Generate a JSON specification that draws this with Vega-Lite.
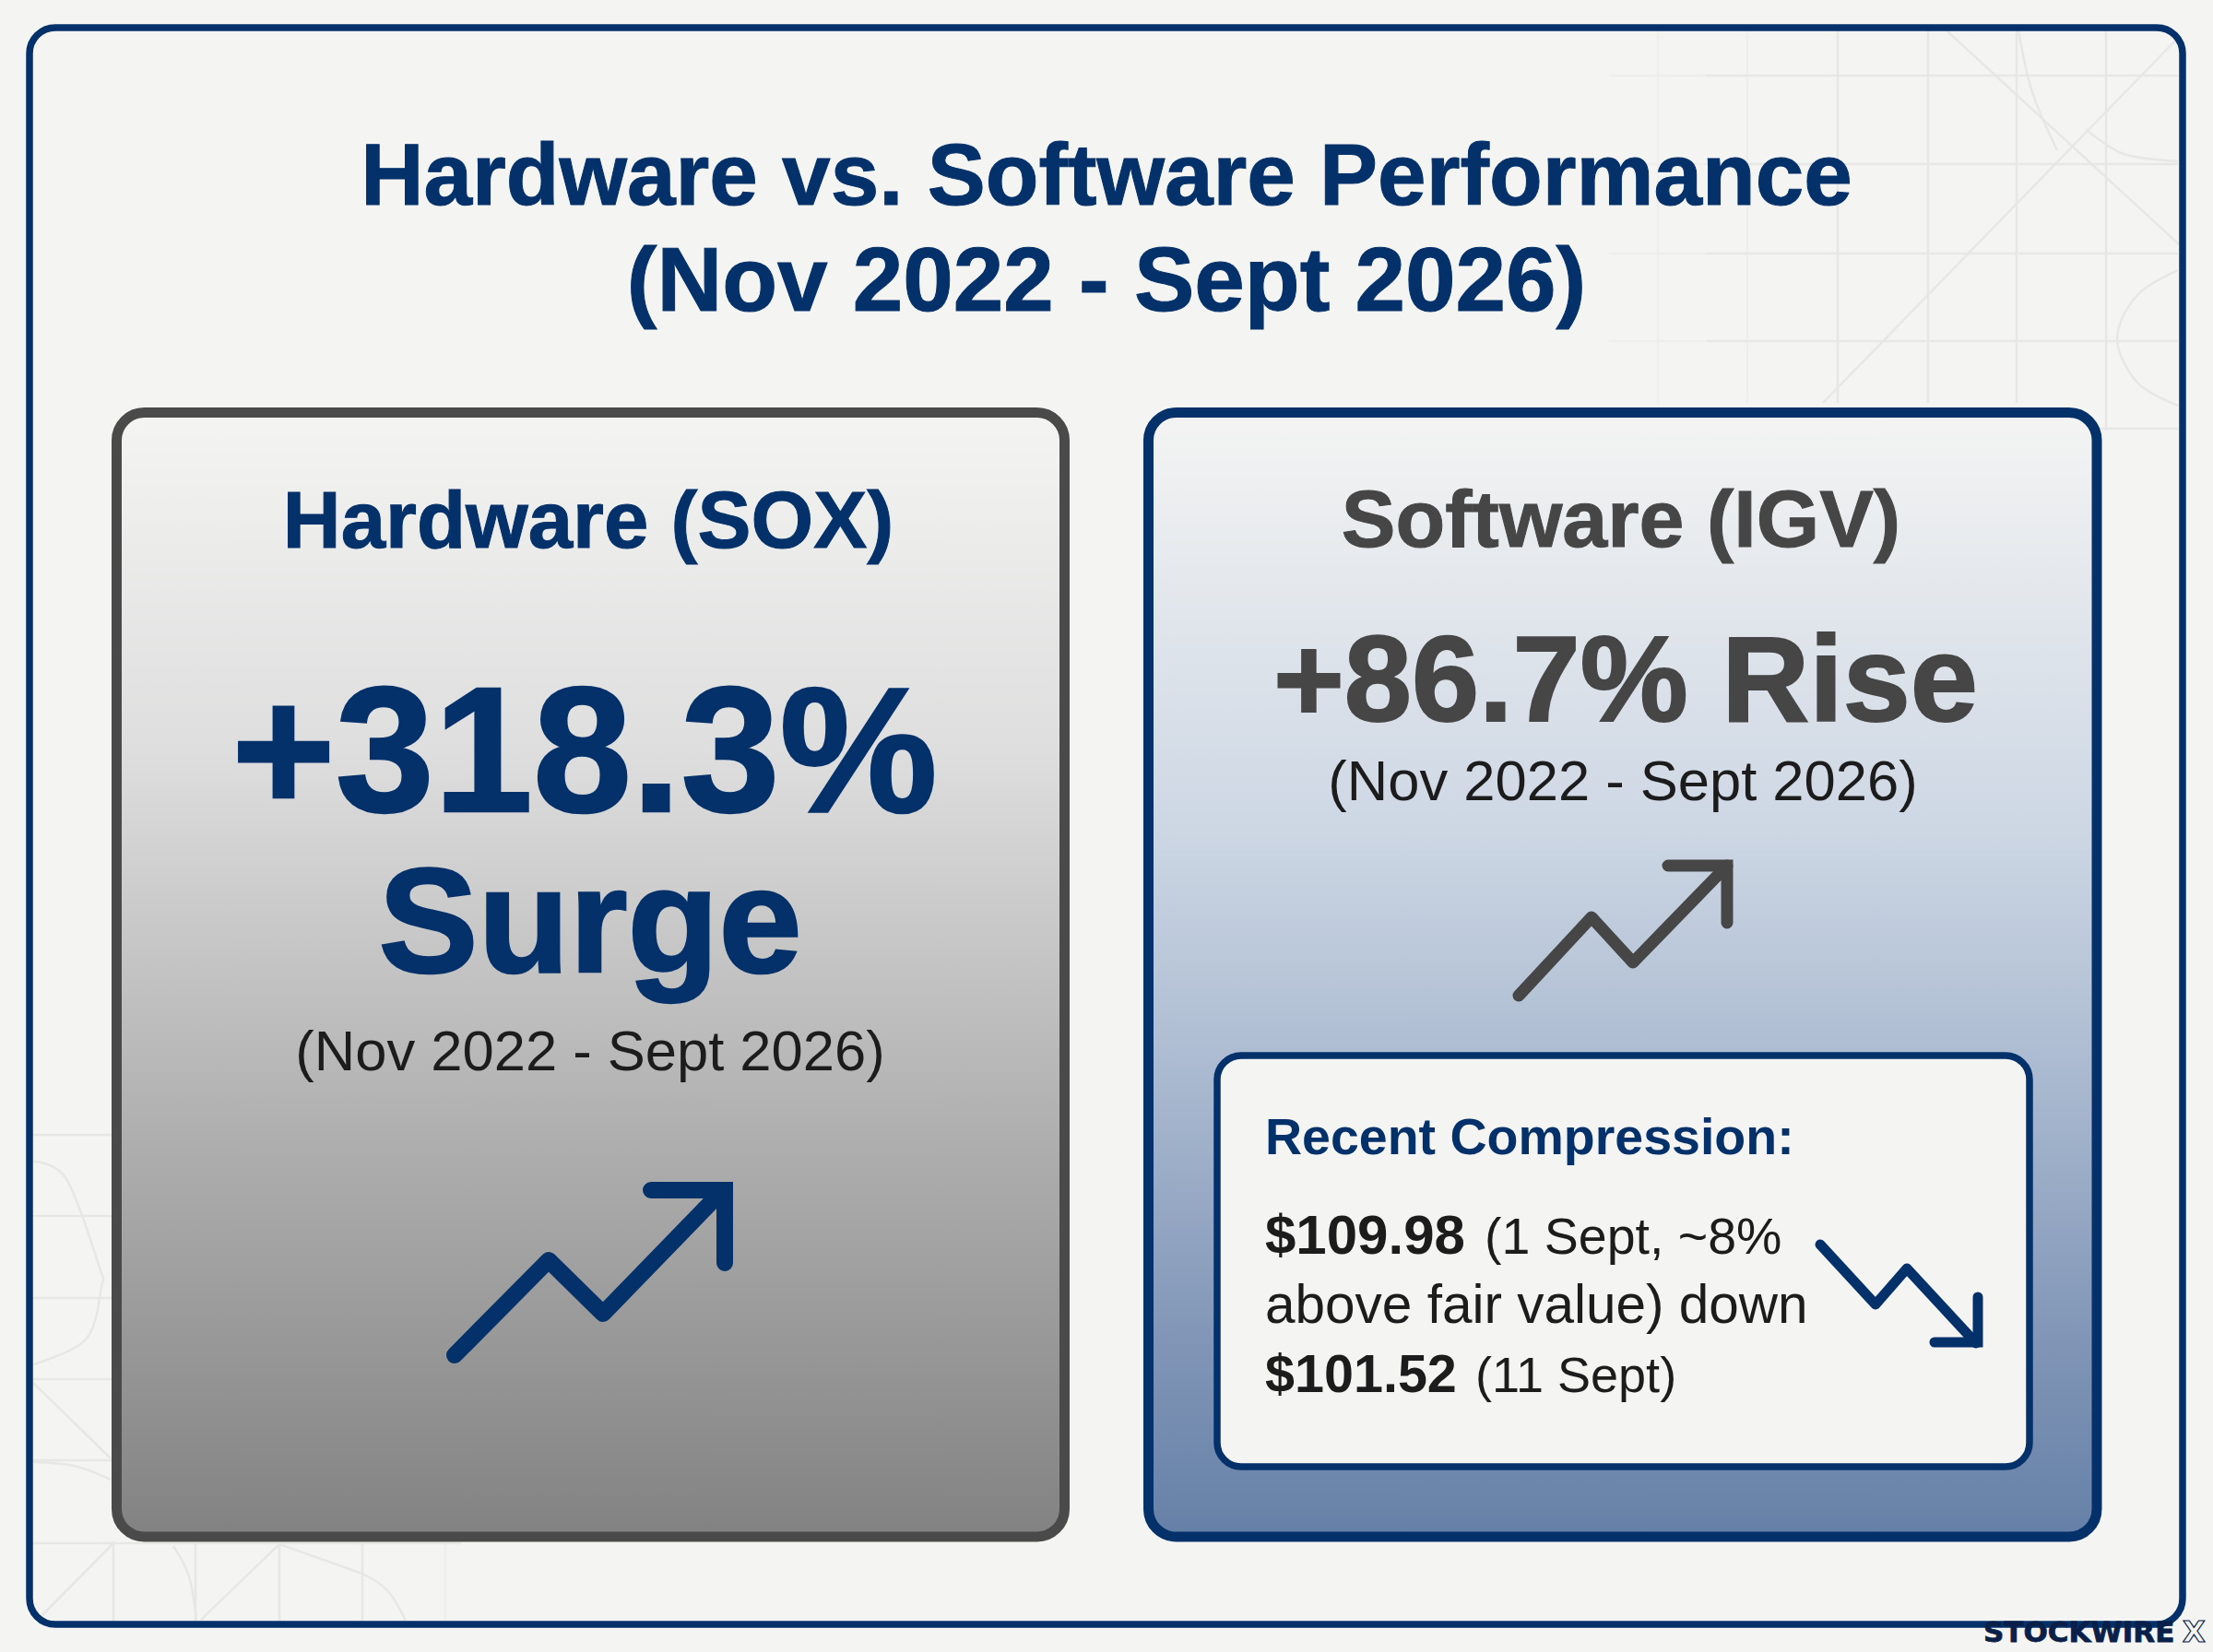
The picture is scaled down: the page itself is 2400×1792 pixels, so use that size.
{
  "$schema": "https://vega.github.io/schema/vega-lite/v6.json",
  "width": 2400,
  "height": 1792,
  "padding": 0,
  "autosize": "none",
  "background": "#f4f4f2",
  "config": {"view": {"stroke": null}},
  "datasets": {
    "rules": [
      {"x": 1798, "y": 33, "x2": 1798, "y2": 437, "kind": "faint"},
      {"x": 1895, "y": 33, "x2": 1895, "y2": 437, "kind": "faint"},
      {"x": 1745, "y": 82, "x2": 1850, "y2": 82, "kind": "faint"},
      {"x": 1745, "y": 178, "x2": 1850, "y2": 178, "kind": "faint"},
      {"x": 1745, "y": 275, "x2": 1850, "y2": 275, "kind": "faint"},
      {"x": 1745, "y": 370, "x2": 1850, "y2": 370, "kind": "faint"},
      {"x": 1993, "y": 33, "x2": 1993, "y2": 437, "kind": "main"},
      {"x": 2091, "y": 33, "x2": 2091, "y2": 437, "kind": "main"},
      {"x": 2187, "y": 33, "x2": 2187, "y2": 437, "kind": "main"},
      {"x": 2284, "y": 33, "x2": 2284, "y2": 467, "kind": "main"},
      {"x": 1850, "y": 82, "x2": 2362, "y2": 82, "kind": "main"},
      {"x": 1850, "y": 178, "x2": 2362, "y2": 178, "kind": "main"},
      {"x": 1850, "y": 275, "x2": 2362, "y2": 275, "kind": "main"},
      {"x": 1850, "y": 370, "x2": 2362, "y2": 370, "kind": "main"},
      {"x": 2270, "y": 465, "x2": 2362, "y2": 465, "kind": "main"},
      {"x": 2111, "y": 33, "x2": 2363, "y2": 265, "kind": "main"},
      {"x": 2363, "y": 40, "x2": 1977, "y2": 437, "kind": "main"},
      {"x": 35, "y": 1231, "x2": 125, "y2": 1231, "kind": "main"},
      {"x": 35, "y": 1319, "x2": 125, "y2": 1319, "kind": "main"},
      {"x": 35, "y": 1408, "x2": 125, "y2": 1408, "kind": "main"},
      {"x": 35, "y": 1496, "x2": 125, "y2": 1496, "kind": "main"},
      {"x": 35, "y": 1584, "x2": 125, "y2": 1584, "kind": "main"},
      {"x": 35, "y": 1674, "x2": 500, "y2": 1674, "kind": "main"},
      {"x": 123, "y": 1672, "x2": 123, "y2": 1758, "kind": "main"},
      {"x": 212, "y": 1672, "x2": 212, "y2": 1758, "kind": "main"},
      {"x": 303, "y": 1672, "x2": 303, "y2": 1758, "kind": "main"},
      {"x": 393, "y": 1672, "x2": 393, "y2": 1758, "kind": "main"},
      {"x": 483, "y": 1672, "x2": 483, "y2": 1758, "kind": "faint"},
      {"x": 36, "y": 1500, "x2": 120, "y2": 1582, "kind": "main"},
      {"x": 43, "y": 1755, "x2": 122, "y2": 1675, "kind": "main"},
      {"x": 218, "y": 1757, "x2": 303, "y2": 1675, "kind": "main"},
      {"x": 303, "y": 1675, "x2": 393, "y2": 1707, "kind": "main"}
    ],
    "curves": [
      {"id": "a", "i": 0, "x": 2189, "y": 33},
      {"id": "a", "i": 1, "x": 2204, "y": 100},
      {"id": "a", "i": 2, "x": 2231, "y": 163},
      {"id": "b", "i": 0, "x": 2262, "y": 140},
      {"id": "b", "i": 1, "x": 2303, "y": 167},
      {"id": "b", "i": 2, "x": 2362, "y": 175},
      {"id": "c", "i": 0, "x": 2362, "y": 293},
      {"id": "c", "i": 1, "x": 2318, "y": 320},
      {"id": "c", "i": 2, "x": 2296, "y": 367},
      {"id": "c", "i": 3, "x": 2318, "y": 415},
      {"id": "c", "i": 4, "x": 2362, "y": 440},
      {"id": "d", "i": 0, "x": 36, "y": 1260},
      {"id": "d", "i": 1, "x": 72, "y": 1279},
      {"id": "d", "i": 2, "x": 108, "y": 1375},
      {"id": "d", "i": 3, "x": 110, "y": 1396},
      {"id": "d", "i": 4, "x": 93, "y": 1453},
      {"id": "d", "i": 5, "x": 36, "y": 1480},
      {"id": "e", "i": 0, "x": 36, "y": 1586},
      {"id": "e", "i": 1, "x": 80, "y": 1590},
      {"id": "e", "i": 2, "x": 120, "y": 1605},
      {"id": "f", "i": 0, "x": 188, "y": 1677},
      {"id": "f", "i": 1, "x": 205, "y": 1710},
      {"id": "f", "i": 2, "x": 213, "y": 1758},
      {"id": "g", "i": 0, "x": 393, "y": 1707},
      {"id": "g", "i": 1, "x": 420, "y": 1725},
      {"id": "g", "i": 2, "x": 440, "y": 1758}
    ],
    "boxes": [
      {"box": "frame", "x": 32, "x2": 2367, "y": 30, "y2": 1762},
      {"box": "hardware", "x": 126.5, "x2": 1154.5, "y": 447.5, "y2": 1667},
      {"box": "software", "x": 1245.5, "x2": 2274, "y": 447.5, "y2": 1667},
      {"box": "compression", "x": 1320, "x2": 2201, "y": 1145, "y2": 1591}
    ],
    "arrows": [
      {"arrow": "hardware", "part": "stem", "i": 0, "x": 493, "y": 1470},
      {"arrow": "hardware", "part": "stem", "i": 1, "x": 595, "y": 1367},
      {"arrow": "hardware", "part": "stem", "i": 2, "x": 654, "y": 1425},
      {"arrow": "hardware", "part": "stem", "i": 3, "x": 784, "y": 1291},
      {"arrow": "hardware", "part": "head", "i": 0, "x": 706, "y": 1291},
      {"arrow": "hardware", "part": "head", "i": 1, "x": 786, "y": 1291},
      {"arrow": "hardware", "part": "head", "i": 2, "x": 786, "y": 1370},
      {"arrow": "software", "part": "stem", "i": 0, "x": 1647, "y": 1080},
      {"arrow": "software", "part": "stem", "i": 1, "x": 1726, "y": 995},
      {"arrow": "software", "part": "stem", "i": 2, "x": 1771, "y": 1044},
      {"arrow": "software", "part": "stem", "i": 3, "x": 1873, "y": 939},
      {"arrow": "software", "part": "head", "i": 0, "x": 1809, "y": 939},
      {"arrow": "software", "part": "head", "i": 1, "x": 1873, "y": 939},
      {"arrow": "software", "part": "head", "i": 2, "x": 1873, "y": 1001},
      {"arrow": "compression", "part": "stem", "i": 0, "x": 1974, "y": 1350},
      {"arrow": "compression", "part": "stem", "i": 1, "x": 2034, "y": 1415},
      {"arrow": "compression", "part": "stem", "i": 2, "x": 2068, "y": 1376},
      {"arrow": "compression", "part": "stem", "i": 3, "x": 2143, "y": 1457},
      {"arrow": "compression", "part": "head", "i": 0, "x": 2098, "y": 1456},
      {"arrow": "compression", "part": "head", "i": 1, "x": 2145, "y": 1456},
      {"arrow": "compression", "part": "head", "i": 2, "x": 2145, "y": 1407}
    ],
    "labels": [
      {"role": "title1", "text": "Hardware vs. Software Performance", "x": 1200, "y": 222},
      {"role": "title2", "text": "(Nov 2022 - Sept 2026)", "x": 1200, "y": 337},
      {"role": "hwHead", "text": "Hardware (SOX)", "x": 638, "y": 594},
      {"role": "hwBig", "text": "+318.3%", "x": 634, "y": 880},
      {"role": "hwWord", "text": "Surge", "x": 640, "y": 1054},
      {"role": "date", "text": "(Nov 2022 - Sept 2026)", "x": 640, "y": 1161},
      {"role": "swHead", "text": "Software (IGV)", "x": 1758, "y": 593},
      {"role": "swBig", "text": "+86.7% Rise", "x": 1763, "y": 782},
      {"role": "date", "text": "(Nov 2022 - Sept 2026)", "x": 1760, "y": 868},
      {"role": "boxHead", "text": "Recent Compression:", "x": 1372, "y": 1252},
      {"role": "price1", "text": "$109.98", "x": 1372, "y": 1360},
      {"role": "note1", "text": "(1 Sept, ~8%", "x": 1610, "y": 1360},
      {"role": "note2", "text": "above fair value) down", "x": 1372, "y": 1435},
      {"role": "price2", "text": "$101.52", "x": 1372, "y": 1510},
      {"role": "note3", "text": "(11 Sept)", "x": 1600, "y": 1510},
      {"role": "brand", "text": "STOCKWIRE", "x": 2151, "y": 1781},
      {"role": "brandX", "text": "X", "x": 2367, "y": 1781}
    ]
  },
  "encoding": {
    "x": {"field": "x", "type": "quantitative", "axis": null, "scale": {"domain": [0, 2400], "nice": false, "zero": false}},
    "y": {"field": "y", "type": "quantitative", "axis": null, "scale": {"domain": [1792, 0], "nice": false, "zero": false}}
  },
  "layer": [
    {
      "data": {"name": "rules"},
      "transform": [{"filter": "datum.kind == 'faint'"}],
      "mark": {"type": "rule", "stroke": "#eeeeec", "strokeWidth": 2.5},
      "encoding": {"x2": {"field": "x2"}, "y2": {"field": "y2"}}
    },
    {
      "data": {"name": "rules"},
      "transform": [{"filter": "datum.kind == 'main'"}],
      "mark": {"type": "rule", "stroke": "#e7e7e5", "strokeWidth": 2.5},
      "encoding": {"x2": {"field": "x2"}, "y2": {"field": "y2"}}
    },
    {
      "data": {"name": "curves"},
      "mark": {"type": "line", "stroke": "#e7e7e5", "strokeWidth": 2.5, "interpolate": "cardinal"},
      "encoding": {"detail": {"field": "id"}, "order": {"field": "i", "type": "quantitative"}}
    },
    {
      "data": {"name": "boxes"},
      "transform": [{"filter": "datum.box == 'frame'"}],
      "mark": {"type": "rect", "fill": null, "stroke": "#04316a", "strokeWidth": 7.5, "cornerRadius": 28},
      "encoding": {"x2": {"field": "x2"}, "y2": {"field": "y2"}}
    },
    {
      "data": {"name": "boxes"},
      "transform": [{"filter": "datum.box == 'hardware'"}],
      "mark": {
        "type": "rect",
        "stroke": "#4a4a4a",
        "strokeWidth": 11,
        "cornerRadius": 30,
        "fill": {
          "gradient": "linear", "x1": 0, "y1": 0, "x2": 0, "y2": 1,
          "stops": [
            {"offset": 0, "color": "#f4f4f3"},
            {"offset": 0.3, "color": "#dedede"},
            {"offset": 0.62, "color": "#b3b2b2"},
            {"offset": 1, "color": "#828282"}
          ]
        }
      },
      "encoding": {"x2": {"field": "x2"}, "y2": {"field": "y2"}}
    },
    {
      "data": {"name": "boxes"},
      "transform": [{"filter": "datum.box == 'software'"}],
      "mark": {
        "type": "rect",
        "stroke": "#04316a",
        "strokeWidth": 11,
        "cornerRadius": 30,
        "fill": {
          "gradient": "linear", "x1": 0, "y1": 0, "x2": 0, "y2": 1,
          "stops": [
            {"offset": 0, "color": "#f4f4f3"},
            {"offset": 0.37, "color": "#cdd7e4"},
            {"offset": 0.56, "color": "#afbed3"},
            {"offset": 0.8, "color": "#8599b9"},
            {"offset": 1, "color": "#6580a7"}
          ]
        }
      },
      "encoding": {"x2": {"field": "x2"}, "y2": {"field": "y2"}}
    },
    {
      "data": {"name": "boxes"},
      "transform": [{"filter": "datum.box == 'compression'"}],
      "mark": {"type": "rect", "fill": "#f4f4f3", "stroke": "#04316a", "strokeWidth": 7.5, "cornerRadius": 26},
      "encoding": {"x2": {"field": "x2"}, "y2": {"field": "y2"}}
    },
    {
      "data": {"name": "arrows"},
      "transform": [{"filter": "datum.arrow == 'hardware' && datum.part == 'stem'"}],
      "mark": {"type": "line", "stroke": "#04316a", "strokeWidth": 18, "strokeCap": "round", "strokeJoin": "round"},
      "encoding": {"order": {"field": "i", "type": "quantitative"}}
    },
    {
      "data": {"name": "arrows"},
      "transform": [{"filter": "datum.arrow == 'hardware' && datum.part == 'head'"}],
      "mark": {"type": "line", "stroke": "#04316a", "strokeWidth": 18, "strokeCap": "round", "strokeJoin": "miter"},
      "encoding": {"order": {"field": "i", "type": "quantitative"}}
    },
    {
      "data": {"name": "arrows"},
      "transform": [{"filter": "datum.arrow == 'software' && datum.part == 'stem'"}],
      "mark": {"type": "line", "stroke": "#464646", "strokeWidth": 13, "strokeCap": "round", "strokeJoin": "round"},
      "encoding": {"order": {"field": "i", "type": "quantitative"}}
    },
    {
      "data": {"name": "arrows"},
      "transform": [{"filter": "datum.arrow == 'software' && datum.part == 'head'"}],
      "mark": {"type": "line", "stroke": "#464646", "strokeWidth": 13, "strokeCap": "round", "strokeJoin": "miter"},
      "encoding": {"order": {"field": "i", "type": "quantitative"}}
    },
    {
      "data": {"name": "arrows"},
      "transform": [{"filter": "datum.arrow == 'compression' && datum.part == 'stem'"}],
      "mark": {"type": "line", "stroke": "#04316a", "strokeWidth": 11, "strokeCap": "round", "strokeJoin": "round"},
      "encoding": {"order": {"field": "i", "type": "quantitative"}}
    },
    {
      "data": {"name": "arrows"},
      "transform": [{"filter": "datum.arrow == 'compression' && datum.part == 'head'"}],
      "mark": {"type": "line", "stroke": "#04316a", "strokeWidth": 11, "strokeCap": "round", "strokeJoin": "miter"},
      "encoding": {"order": {"field": "i", "type": "quantitative"}}
    },
    {
      "data": {"name": "labels"},
      "transform": [{"filter": "datum.role == 'title1'"}],
      "mark": {"type": "text", "font": "Liberation Sans", "fontWeight": "bold", "fontSize": 94.5, "align": "center", "baseline": "alphabetic", "color": "#04316a", "stroke": "#04316a", "strokeWidth": 1},
      "encoding": {"text": {"field": "text"}}
    },
    {
      "data": {"name": "labels"},
      "transform": [{"filter": "datum.role == 'title2'"}],
      "mark": {"type": "text", "font": "Liberation Sans", "fontWeight": "bold", "fontSize": 98, "align": "center", "baseline": "alphabetic", "color": "#04316a", "stroke": "#04316a", "strokeWidth": 1},
      "encoding": {"text": {"field": "text"}}
    },
    {
      "data": {"name": "labels"},
      "transform": [{"filter": "datum.role == 'hwHead'"}],
      "mark": {"type": "text", "font": "Liberation Sans", "fontWeight": "bold", "fontSize": 87, "align": "center", "baseline": "alphabetic", "color": "#04316a", "stroke": "#04316a", "strokeWidth": 1},
      "encoding": {"text": {"field": "text"}}
    },
    {
      "data": {"name": "labels"},
      "transform": [{"filter": "datum.role == 'hwBig'"}],
      "mark": {"type": "text", "font": "Liberation Sans", "fontWeight": "bold", "fontSize": 192.5, "align": "center", "baseline": "alphabetic", "color": "#04316a", "stroke": "#04316a", "strokeWidth": 2.5},
      "encoding": {"text": {"field": "text"}}
    },
    {
      "data": {"name": "labels"},
      "transform": [{"filter": "datum.role == 'hwWord'"}],
      "mark": {"type": "text", "font": "Liberation Sans", "fontWeight": "bold", "fontSize": 162, "align": "center", "baseline": "alphabetic", "color": "#04316a", "stroke": "#04316a", "strokeWidth": 2.5},
      "encoding": {"text": {"field": "text"}}
    },
    {
      "data": {"name": "labels"},
      "transform": [{"filter": "datum.role == 'date'"}],
      "mark": {"type": "text", "font": "Liberation Sans", "fontSize": 61.5, "align": "center", "baseline": "alphabetic", "color": "#1c1c1c"},
      "encoding": {"text": {"field": "text"}}
    },
    {
      "data": {"name": "labels"},
      "transform": [{"filter": "datum.role == 'swHead'"}],
      "mark": {"type": "text", "font": "Liberation Sans", "fontWeight": "bold", "fontSize": 88, "align": "center", "baseline": "alphabetic", "color": "#464646", "stroke": "#464646", "strokeWidth": 1},
      "encoding": {"text": {"field": "text"}}
    },
    {
      "data": {"name": "labels"},
      "transform": [{"filter": "datum.role == 'swBig'"}],
      "mark": {"type": "text", "font": "Liberation Sans", "fontWeight": "bold", "fontSize": 131.5, "align": "center", "baseline": "alphabetic", "color": "#464646", "stroke": "#464646", "strokeWidth": 2},
      "encoding": {"text": {"field": "text"}}
    },
    {
      "data": {"name": "labels"},
      "transform": [{"filter": "datum.role == 'boxHead'"}],
      "mark": {"type": "text", "font": "Liberation Sans", "fontWeight": "bold", "fontSize": 55.5, "align": "left", "baseline": "alphabetic", "color": "#04316a"},
      "encoding": {"text": {"field": "text"}}
    },
    {
      "data": {"name": "labels"},
      "transform": [{"filter": "datum.role == 'price1'"}],
      "mark": {"type": "text", "font": "Liberation Sans", "fontWeight": "bold", "fontSize": 60, "align": "left", "baseline": "alphabetic", "color": "#1c1c1c"},
      "encoding": {"text": {"field": "text"}}
    },
    {
      "data": {"name": "labels"},
      "transform": [{"filter": "datum.role == 'price2'"}],
      "mark": {"type": "text", "font": "Liberation Sans", "fontWeight": "bold", "fontSize": 57.5, "align": "left", "baseline": "alphabetic", "color": "#1c1c1c"},
      "encoding": {"text": {"field": "text"}}
    },
    {
      "data": {"name": "labels"},
      "transform": [{"filter": "datum.role == 'note1'"}],
      "mark": {"type": "text", "font": "Liberation Sans", "fontSize": 55.5, "align": "left", "baseline": "alphabetic", "color": "#1c1c1c"},
      "encoding": {"text": {"field": "text"}}
    },
    {
      "data": {"name": "labels"},
      "transform": [{"filter": "datum.role == 'note2'"}],
      "mark": {"type": "text", "font": "Liberation Sans", "fontSize": 58.5, "align": "left", "baseline": "alphabetic", "color": "#1c1c1c"},
      "encoding": {"text": {"field": "text"}}
    },
    {
      "data": {"name": "labels"},
      "transform": [{"filter": "datum.role == 'note3'"}],
      "mark": {"type": "text", "font": "Liberation Sans", "fontSize": 54, "align": "left", "baseline": "alphabetic", "color": "#1c1c1c"},
      "encoding": {"text": {"field": "text"}}
    },
    {
      "data": {"name": "labels"},
      "transform": [{"filter": "datum.role == 'brand'"}],
      "mark": {"type": "text", "font": "DejaVu Sans", "fontWeight": "bold", "fontSize": 31, "align": "left", "baseline": "alphabetic", "color": "#0a2048", "stroke": "#0a2048", "strokeWidth": 0.8},
      "encoding": {"text": {"field": "text"}}
    },
    {
      "data": {"name": "labels"},
      "transform": [{"filter": "datum.role == 'brandX'"}],
      "mark": {"type": "text", "font": "DejaVu Sans", "fontWeight": "bold", "fontSize": 32, "align": "left", "baseline": "alphabetic", "fill": "#f4f4f2", "stroke": "#0a2048", "strokeWidth": 1.2},
      "encoding": {"text": {"field": "text"}}
    }
  ]
}
